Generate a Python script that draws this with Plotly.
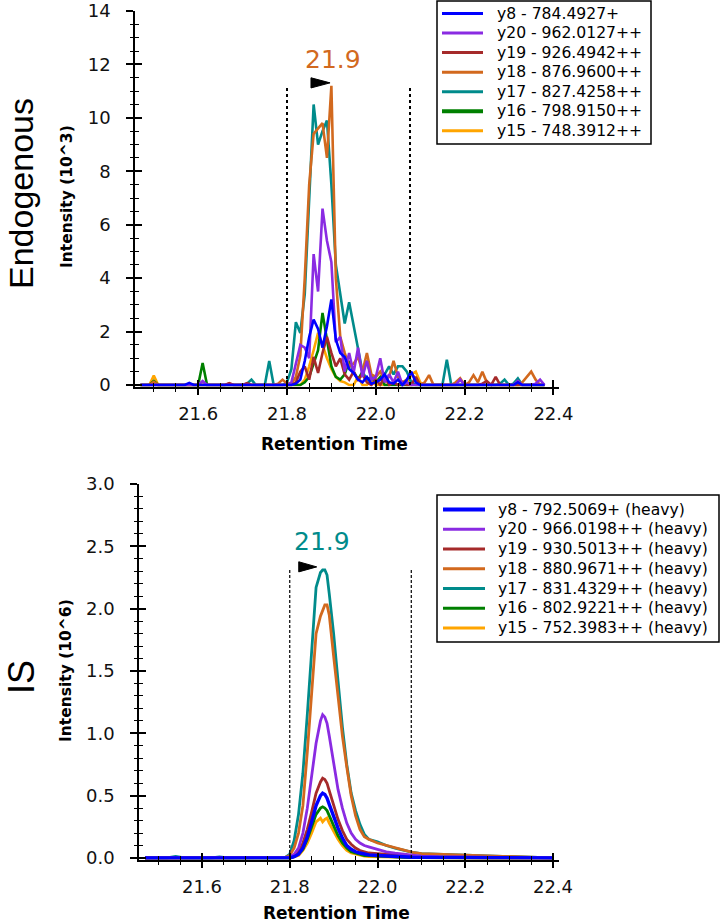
import plotly.graph_objects as go

# ---------------- data ----------------
# Endogenous chromatogram: shared retention-time grid (min), 21.47 .. 22.38, 0.01 min steps
TIME_ENDO = [round(21.47 + 0.01 * i, 2) for i in range(92)]

Y8_ENDO = [0, 0, 0, 0, 0, 0, 0, 0, 0, 0,
           0, 0.08, 0, 0, 0, 0, 0, 0, 0, 0,
           0, 0, 0, 0, 0, 0, 0, 0, 0, 0,
           0, 0, 0, 0, 0, 0.05, 0.2, 0.9, 1.8, 2.45,
           2.1, 1.4, 2.2, 3.2, 1.7, 1.2, 1.05, 0.6, 0.45, 0.2,
           0.1, 0.3, 0.05, 0.1, 0.2, 0.4, 0.1, 0.05, 0.2, 0,
           0.2, 0.5, 0.1, 0, 0, 0, 0, 0, 0, 0,
           0, 0, 0, 0, 0, 0, 0, 0, 0, 0,
           0, 0, 0, 0, 0, 0.1, 0, 0, 0, 0,
           0, 0]
Y20_ENDO = [0, 0, 0, 0, 0, 0, 0, 0, 0, 0,
            0, 0, 0, 0, 0.15, 0, 0, 0, 0, 0,
            0, 0, 0, 0, 0, 0, 0, 0, 0, 0,
            0, 0, 0, 0, 0.1, 0.8, 1.5, 1.4, 1.0, 4.9,
            3.5, 6.6, 5.4, 4.6, 1.6, 1.8, 0.5, 1.2, 0.45, 1.4,
            0.3, 0.9, 0.2, 0.3, 1.0, 0.1, 0.4, 0.1, 0.5, 0,
            0.1, 0, 0, 0, 0, 0, 0, 0, 0, 0,
            0, 0, 0.2, 0, 0, 0, 0, 0, 0, 0,
            0, 0, 0, 0, 0, 0.15, 0, 0, 0, 0.05,
            0.2, 0]
Y19_ENDO = [0, 0, 0, 0, 0, 0, 0, 0, 0, 0,
            0, 0, 0, 0, 0, 0, 0, 0, 0, 0,
            0.07, 0, 0, 0, 0.07, 0, 0, 0, 0, 0,
            0, 0, 0, 0, 0, 0.1, 0.5, 0.7, 0.2, 1.05,
            0.45, 1.2, 1.8, 1.2, 0.7, 1.0, 0.4, 0.2, 0.5, 0.2,
            0.4, 0.1, 0, 0.2, 0, 0.3, 0, 0.1, 0, 0.1,
            0, 0, 0.3, 0, 0, 0, 0, 0, 0, 0,
            0, 0, 0, 0, 0, 0, 0, 0.05, 0.15, 0,
            0.3, 0, 0, 0, 0, 0, 0, 0, 0, 0,
            0, 0]
Y18_ENDO = [0, 0, 0, 0.12, 0, 0, 0, 0, 0, 0,
            0, 0, 0, 0, 0, 0, 0, 0, 0, 0,
            0.05, 0, 0, 0, 0, 0, 0, 0, 0, 0,
            0, 0.05, 0.2, 0.05, 0.05, 0.3, 1.1, 4.0, 7.5, 9.4,
            9.6, 9.8, 8.5, 11.2, 4.0, 1.8, 1.2, 0.7, 0.8, 1.05,
            0.5, 1.2, 0.4, 0.3, 0.5, 0.2, 0.3, 0.9, 0.3, 0.1,
            0.2, 0.45, 0.2, 0, 0.1, 0.37, 0, 0, 0, 0,
            0, 0.1, 0.25, 0, 0.1, 0.37, 0.1, 0.5, 0.1, 0,
            0, 0, 0, 0, 0, 0, 0.1, 0.3, 0.5, 0.2,
            0, 0]
Y17_ENDO = [0, 0, 0, 0, 0, 0, 0, 0, 0, 0,
            0, 0, 0, 0, 0, 0, 0, 0, 0, 0,
            0, 0, 0, 0, 0.05, 0.2, 0, 0, 0, 0.9,
            0, 0, 0, 0.1, 0.6, 2.35, 1.95, 3.4, 7.1, 10.5,
            9.0, 9.5, 9.9, 7.5, 4.5, 3.4, 2.3, 3.1, 2.2, 1.4,
            0.5, 0.2, 0.3, 0.1, 0.2, 0.4, 0.7, 0.4, 0.7, 0.7,
            0.5, 0.1, 0, 0, 0, 0, 0, 0, 0, 0.95,
            0, 0, 0, 0, 0, 0, 0, 0, 0, 0,
            0, 0.05, 0.2, 0, 0.05, 0.25, 0, 0, 0, 0,
            0, 0]
Y16_ENDO = [0, 0, 0, 0.15, 0, 0, 0, 0, 0, 0,
            0, 0, 0, 0, 0.82, 0, 0, 0, 0, 0,
            0, 0, 0, 0, 0, 0, 0, 0, 0, 0,
            0, 0, 0, 0, 0, 0, 0, 0.1, 0.3, 0.8,
            1.3, 2.7, 1.7, 0.7, 0.3, 0.2, 0.4, 0.9, 0.5, 0.2,
            0.5, 0.9, 0.3, 0.1, 0.3, 0, 0, 0, 0, 0,
            0, 0, 0, 0, 0, 0, 0, 0, 0, 0,
            0, 0, 0, 0, 0, 0, 0, 0, 0, 0,
            0, 0, 0, 0, 0, 0, 0, 0, 0, 0,
            0, 0]
Y15_ENDO = [0, 0, 0, 0.35, 0, 0, 0, 0, 0, 0,
            0, 0, 0, 0, 0, 0, 0, 0, 0, 0,
            0, 0, 0, 0, 0, 0, 0, 0, 0, 0,
            0, 0, 0, 0, 0, 0, 0, 0.2, 0.7, 1.3,
            1.95, 1.5, 1.0, 0.6, 0.3, 0.15, 0.1, 0, 0, 0.3,
            0, 0, 0.2, 0, 0, 0, 0, 0.1, 0, 0,
            0, 0.4, 0.5, 0.1, 0, 0, 0, 0, 0, 0,
            0, 0, 0, 0, 0, 0, 0, 0, 0, 0,
            0, 0, 0, 0, 0, 0, 0, 0, 0, 0,
            0, 0]

# Internal standard (heavy) chromatogram
TIME_IS = [21.47, 21.52, 21.54, 21.56, 21.62, 21.64, 21.66, 21.72, 21.76, 21.79,
           21.80, 21.81, 21.82, 21.83, 21.84, 21.85, 21.86, 21.87, 21.875, 21.88,
           21.885, 21.89, 21.90, 21.91, 21.92, 21.93, 21.94, 21.95, 21.96, 21.97,
           21.98, 22.00, 22.02, 22.04, 22.06, 22.08, 22.10, 22.14, 22.20, 22.26,
           22.32, 22.40]
Y8_IS = [0, 0, 0, 0, 0, 0, 0, 0, 0, 0,
         0, 0.01, 0.03, 0.08, 0.17, 0.29, 0.42, 0.5, 0.52, 0.51,
         0.48, 0.43, 0.33, 0.24, 0.16, 0.1, 0.07, 0.05, 0.04, 0.03,
         0.025, 0.02, 0.015, 0.01, 0.008, 0.006, 0.005, 0.004, 0.003, 0.002,
         0, 0]
Y20_IS = [0, 0, 0, 0, 0, 0, 0, 0, 0, 0.003,
          0.01, 0.03, 0.08, 0.2, 0.4, 0.65, 0.92, 1.1, 1.15, 1.13,
          1.08, 0.98, 0.75, 0.55, 0.4, 0.28, 0.2, 0.15, 0.12, 0.1,
          0.09, 0.07, 0.05, 0.04, 0.03, 0.02, 0.015, 0.01, 0.008, 0.005,
          0, 0]
Y19_IS = [0, 0, 0, 0, 0, 0, 0, 0, 0, 0,
          0.005, 0.02, 0.05, 0.12, 0.23, 0.37, 0.52, 0.61, 0.64, 0.63,
          0.6, 0.54, 0.42, 0.31, 0.22, 0.15, 0.11, 0.08, 0.06, 0.05,
          0.04, 0.035, 0.03, 0.02, 0.015, 0.01, 0.01, 0.005, 0, 0,
          0, 0]
Y18_IS = [0, 0, 0, 0, 0, 0, 0, 0, 0, 0.005,
          0.02, 0.08, 0.2, 0.42, 0.85, 1.32, 1.8, 1.94, 1.99, 2.03,
          2.03, 1.95, 1.62, 1.27, 0.98, 0.73, 0.5, 0.34, 0.23, 0.17,
          0.15, 0.12, 0.1, 0.08, 0.06, 0.045, 0.035, 0.03, 0.02, 0.015,
          0.005, 0]
Y17_IS = [0, 0, 0.012, 0, 0, 0.008, 0, 0, 0, 0.005,
          0.03, 0.14, 0.35, 0.68, 1.15, 1.7, 2.17, 2.29, 2.31, 2.31,
          2.27, 2.12, 1.8, 1.42, 1.05, 0.75, 0.52, 0.38, 0.27, 0.19,
          0.15, 0.13, 0.1, 0.08, 0.06, 0.045, 0.035, 0.03, 0.02, 0.012,
          0.005, 0]
Y16_IS = [0, 0, 0, 0, 0, 0, 0, 0, 0, 0,
          0, 0.01, 0.03, 0.07, 0.15, 0.25, 0.35, 0.4, 0.41, 0.4,
          0.38, 0.34, 0.26, 0.18, 0.12, 0.08, 0.05, 0.04, 0.03, 0.02,
          0.02, 0.015, 0.01, 0.008, 0.005, 0.004, 0.003, 0.002, 0, 0,
          0, 0]
Y15_IS = [0, 0, 0, 0, 0, 0, 0, 0, 0, 0,
          0, 0.01, 0.02, 0.06, 0.12, 0.2, 0.29, 0.32, 0.29, 0.31,
          0.32, 0.28, 0.21, 0.15, 0.1, 0.06, 0.04, 0.03, 0.02, 0.015,
          0.012, 0.01, 0.008, 0.006, 0.004, 0.003, 0.002, 0.001, 0, 0,
          0, 0]

ENDO_LABELS = ["y8 - 784.4927+", "y20 - 962.0127++", "y19 - 926.4942++",
               "y18 - 876.9600++", "y17 - 827.4258++", "y16 - 798.9150++",
               "y15 - 748.3912++"]
IS_LABELS = ["y8 - 792.5069+ (heavy)", "y20 - 966.0198++ (heavy)",
             "y19 - 930.5013++ (heavy)", "y18 - 880.9671++ (heavy)",
             "y17 - 831.4329++ (heavy)", "y16 - 802.9221++ (heavy)",
             "y15 - 752.3983++ (heavy)"]
COLORS = ["#0000FF", "#8A2BE2", "#A52A2A", "#D2691E", "#008B8B", "#008000", "#FFA500"]

ENDO_SERIES = [Y8_ENDO, Y20_ENDO, Y19_ENDO, Y18_ENDO, Y17_ENDO, Y16_ENDO, Y15_ENDO]
IS_SERIES = [Y8_IS, Y20_IS, Y19_IS, Y18_IS, Y17_IS, Y16_IS, Y15_IS]

PEAK_START, PEAK_END = 21.80, 22.077
PEAK_RT_LABEL = "21.9"

# ---------------- layout helpers ----------------
W, H = 721, 924
def px(x):
    return x / W
def py(y):
    return 1 - y / H

FONT = "DejaVu Sans"
TICKFONT = dict(family=FONT, size=18, color="#111")
AX = "#000"

fig = go.Figure()

# draw in reverse so y8 ends on top
for i in reversed(range(7)):
    fig.add_trace(go.Scatter(x=TIME_ENDO, y=ENDO_SERIES[i], mode="lines",
                             line=dict(color=COLORS[i], width=2.6),
                             name=ENDO_LABELS[i], showlegend=False,
                             xaxis="x", yaxis="y"))
for i in reversed(range(7)):
    fig.add_trace(go.Scatter(x=TIME_IS, y=IS_SERIES[i], mode="lines",
                             line=dict(color=COLORS[i], width=2.8 if i else 3.4),
                             name=IS_LABELS[i], showlegend=False,
                             xaxis="x2", yaxis="y2"))
# empty traces to instantiate the tick-overlay axes (crossing ticks)
fig.add_trace(go.Scatter(x=[], y=[], xaxis="x3", yaxis="y3", showlegend=False))
fig.add_trace(go.Scatter(x=[], y=[], xaxis="x4", yaxis="y4", showlegend=False))

XR1 = [21.4577, 22.4126]
YR1 = [-0.06, 14]
XR2 = [21.4564, 22.4137]
YR2 = [-0.012, 3]

XD1 = [px(135), px(559)]
YD1 = [py(386.6), py(11)]
XD2 = [px(139), px(559)]
YD2 = [py(859.5), py(484)]

def xaxis_main(rng, dom, anchor):
    return dict(range=rng, domain=dom, anchor=anchor, showgrid=False, zeroline=False,
                showline=True, linecolor=AX, linewidth=1.5,
                ticks="outside", ticklen=7, tickwidth=1.5, tickcolor=AX,
                tick0=21.6, dtick=0.2, tickformat=".1f", tickfont=TICKFONT,
                ticklabelstandoff=3,
                minor=dict(ticks="outside", ticklen=3.5, tickwidth=1.2, tickcolor=AX,
                           tick0=21.6, dtick=0.05, showgrid=False))

def xaxis_over(rng, dom, over, anchor):
    return dict(range=rng, domain=dom, overlaying=over, anchor=anchor, showgrid=False,
                zeroline=False, showline=False, showticklabels=False,
                ticks="inside", ticklen=7, tickwidth=1.5, tickcolor=AX,
                tick0=21.6, dtick=0.2,
                minor=dict(ticks="inside", ticklen=3.5, tickwidth=1.2, tickcolor=AX,
                           tick0=21.6, dtick=0.05, showgrid=False))

def yaxis_main(rng, dom, anchor, dtick, mdtick, fmt):
    return dict(range=rng, domain=dom, anchor=anchor, showgrid=False, zeroline=False,
                showline=True, linecolor=AX, linewidth=1.5,
                ticks="outside", ticklen=7, tickwidth=1.5, tickcolor=AX,
                tick0=0, dtick=dtick, tickformat=fmt, tickfont=TICKFONT,
                ticklabelstandoff=12,
                minor=dict(ticks="outside", ticklen=3.5, tickwidth=1.2, tickcolor=AX,
                           tick0=0, dtick=mdtick, showgrid=False))

def yaxis_over(rng, dom, over, anchor, dtick, mdtick):
    return dict(range=rng, domain=dom, overlaying=over, anchor=anchor, side="left",
                showgrid=False, zeroline=False, showline=False, showticklabels=False,
                ticks="inside", ticklen=7, tickwidth=1.5, tickcolor=AX,
                tick0=0, dtick=dtick,
                minor=dict(ticks="inside", ticklen=3.5, tickwidth=1.2, tickcolor=AX,
                           tick0=0, dtick=mdtick, showgrid=False))

shapes = []
annotations = []

# integration boundaries
for xb in (PEAK_START, PEAK_END):
    shapes.append(dict(type="line", xref="x", yref="y", x0=xb, x1=xb, y0=0, y1=11.16,
                       line=dict(color="#000", width=2, dash="dot")))
    shapes.append(dict(type="line", xref="x2", yref="y2", x0=xb, x1=xb, y0=0, y1=2.32,
                       line=dict(color="#000", width=1.2, dash="3px,2px")))

# apex arrows
shapes.append(dict(type="path", xref="x", yref="y",
                   path="M 21.854 11.50 L 21.897 11.31 L 21.854 11.12 Z",
                   fillcolor="#000", line=dict(color="#000", width=1)))
shapes.append(dict(type="path", xref="x2", yref="y2",
                   path="M 21.8205 2.376 L 21.8615 2.335 L 21.8205 2.295 Z",
                   fillcolor="#000", line=dict(color="#000", width=1)))

annotations.append(dict(text=PEAK_RT_LABEL, xref="x", yref="y", x=21.904, y=12.2,
                        xanchor="center", yanchor="middle",
                        showarrow=False, font=dict(family=FONT, size=25, color=COLORS[3])))
annotations.append(dict(text=PEAK_RT_LABEL, xref="x2", yref="y2", x=21.873, y=2.54,
                        xanchor="center", yanchor="middle",
                        showarrow=False, font=dict(family=FONT, size=25, color=COLORS[4])))

# axis titles and panel labels
TITLEFONT = dict(family=FONT, size=15.5, color="#000")
def label(text, x, y, font, angle=0):
    annotations.append(dict(text=text, xref="paper", yref="paper", x=px(x), y=py(y),
                            xanchor="center", yanchor="middle", textangle=angle,
                            showarrow=False, font=font))

label("<b>Intensity (10^3)</b>", 67, 197, TITLEFONT, -90)
label("<b>Intensity (10^6)</b>", 66, 671, TITLEFONT, -90)
label("<b>Retention Time</b>", 334, 444, dict(family=FONT, size=17, color="#000"))
label("<b>Retention Time</b>", 336, 913, dict(family=FONT, size=17, color="#000"))
label("Endogenous", 21, 194, dict(family="Liberation Sans", size=34, color="#000"), -90)
label("IS", 21, 677, dict(family="Liberation Sans", size=36, color="#000"), -90)

# legends (drawn manually to reproduce the compact boxed layout)
def legend(labels, box, row0, step, lx0, lx1, tx, thick):
    x0, y0, x1, y1 = box
    shapes.append(dict(type="rect", xref="paper", yref="paper",
                       x0=px(x0), x1=px(x1), y0=py(y0), y1=py(y1),
                       line=dict(color="#000", width=1.5), fillcolor="#fff"))
    for k, lab in enumerate(labels):
        yc = row0 + step * k
        shapes.append(dict(type="line", xref="paper", yref="paper",
                           x0=px(lx0), x1=px(lx1), y0=py(yc), y1=py(yc),
                           line=dict(color=COLORS[k], width=4 if k == thick else 3)))
        annotations.append(dict(text=lab, xref="paper", yref="paper", x=px(tx), y=py(yc),
                                xanchor="left", yanchor="middle", showarrow=False,
                                font=dict(family=FONT, size=15.6, color="#000")))

legend(ENDO_LABELS, (437, 1, 651, 144), 13.5, 19.55, 442, 483, 495, 5)
legend(IS_LABELS, (437, 495, 719, 642), 509.5, 19.75, 443, 485, 496, 0)

fig.update_layout(
    width=W, height=H,
    margin=dict(l=0, r=0, t=0, b=0, autoexpand=False),
    paper_bgcolor="#fff", plot_bgcolor="#fff",
    showlegend=False,
    xaxis=xaxis_main(XR1, XD1, "y"),
    yaxis=yaxis_main(YR1, YD1, "x", 2, 0.5, "d"),
    xaxis2=xaxis_main(XR2, XD2, "y2"),
    yaxis2=yaxis_main(YR2, YD2, "x2", 0.5, 0.1, ".1f"),
    xaxis3=xaxis_over(XR1, XD1, "x", "y"),
    yaxis3=yaxis_over(YR1, YD1, "y", "x", 2, 0.5),
    xaxis4=xaxis_over(XR2, XD2, "x2", "y2"),
    yaxis4=yaxis_over(YR2, YD2, "y2", "x2", 0.5, 0.1),
    shapes=shapes,
    annotations=annotations,
)

fig.write_html("out.html", config={"displayModeBar": False},
               post_script="document.body.style.margin='0';document.body.style.overflow='hidden';")
